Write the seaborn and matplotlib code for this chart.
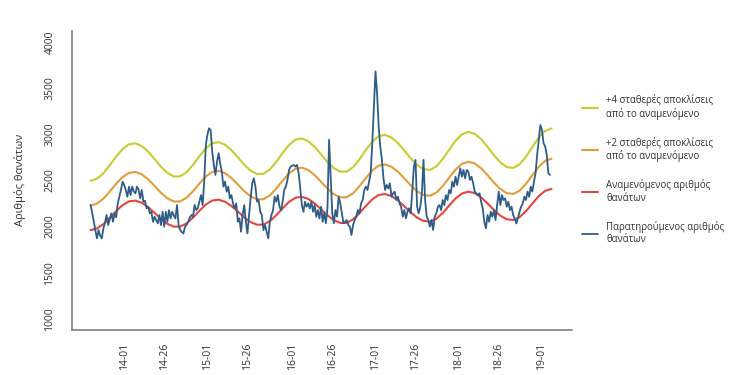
import numpy as np
import pandas as pd
from matplotlib import pyplot as plt
import seaborn as sns

# Weekly observed deaths, week index 0 = week 01 of 2014
obs_2013 = [2233, 2150, 2052, 1960, 1872, 1962, 1900, 1872, 1980, 2040,
            2125, 2016, 2080, 2143, 2052, 2143, 2100, 2251, 2323, 2400, 2486]
obs_2014 = [2450, 2396, 2323, 2432, 2341, 2432, 2380, 2360, 2432, 2400,
            2305, 2396, 2269, 2280, 2197, 2215, 2143, 2160, 2052, 2106,
            2070, 2034, 2125, 2016, 2160, 1998, 2160, 2052, 2178, 2088,
            2160, 2120, 2088, 2233, 2016, 1962, 1940, 1926, 1998, 2020,
            2052, 2100, 2125, 2106, 2233, 2178, 2200, 2269, 2341, 2233,
            2486, 2884]
obs_2015 = [2993, 3064, 3046, 2812, 2667, 2559, 2703, 2794, 2680, 2595,
            2432, 2486, 2378, 2432, 2305, 2341, 2250, 2197, 2251, 2052,
            2088, 1944, 2125, 2233, 2052, 1926, 2125, 2305, 2468, 2522,
            2432, 2269, 2287, 2160, 2125, 1962, 2016, 1944, 1872, 2052,
            2125, 2178, 2323, 2269, 2341, 2215, 2178, 2269, 2396, 2432,
            2504, 2613, 2649, 2660, 2667, 2649, 2667, 2577, 2414, 2233,
            2160, 2269, 2215, 2251, 2197, 2269, 2160, 2233, 2106, 2178,
            2088, 2215, 2052, 2150, 2035]
obs_2016 = [2200, 2939, 2541, 2143, 2035, 2179, 2107, 2324, 2252, 2143,
            2035, 2050, 2071, 2017, 1999, 1909, 2017, 2071, 2107, 2179,
            2143, 2252, 2288, 2396, 2432, 2396, 2487, 2577, 2902, 3300,
            3680, 3445, 3083, 2866, 2722, 2523, 2396, 2450, 2414, 2468,
            2324, 2360, 2378, 2288, 2324, 2252, 2215, 2107, 2179, 2089,
            2161, 2198, 2143, 2400, 2649, 2722, 2215, 2143, 2215, 2360,
            2722, 2288, 2107, 2071, 1999, 2071, 1963, 2107, 2143, 2215]
obs_2017 = [2233, 2178, 2287, 2233, 2341, 2287, 2396, 2360, 2486, 2432,
            2540, 2450, 2540, 2631, 2540, 2613, 2522, 2613, 2595, 2504,
            2540, 2470, 2378, 2360, 2341, 2360, 2269, 2197, 2052, 1980,
            2125, 2052, 2160, 2106, 2178, 2070, 2233, 2378, 2233, 2341,
            2287, 2305, 2215, 2269, 2178, 2215, 2125, 2088, 2034, 2090,
            2160, 2215, 2251, 2323, 2287, 2378, 2323, 2432, 2378, 2486,
            2577, 2776, 2939, 3100, 3046, 2903, 2867, 2776, 2577, 2559]

observed = obs_2013 + obs_2014 + obs_2015 + obs_2016 + obs_2017
obs_weeks = np.arange(-21, -21 + len(observed))

# Expected deaths and the +2 / +4 standard deviation bands, every 4 weeks
curve_weeks = np.arange(-21, 268, 4)
expected = [1962, 1979, 2026, 2094, 2168, 2232, 2272, 2281, 2258, 2210,
            2147, 2082, 2029, 1999, 2000, 2035, 2097, 2171, 2238, 2282,
            2291, 2269, 2223, 2162, 2099, 2048, 2020, 2021, 2058, 2122,
            2198, 2267, 2312, 2322, 2299, 2251, 2187, 2122, 2069, 2039,
            2040, 2078, 2145, 2224, 2295, 2342, 2352, 2330, 2283, 2220,
            2153, 2097, 2061, 2054, 2084, 2146, 2226, 2303, 2358, 2378,
            2362, 2316, 2251, 2180, 2118, 2079, 2071, 2102, 2167, 2249,
            2330, 2387, 2408]
plus2sd = [2229, 2248, 2302, 2379, 2463, 2536, 2581, 2591, 2565, 2511,
           2439, 2365, 2305, 2271, 2272, 2312, 2382, 2466, 2542, 2592,
           2603, 2578, 2525, 2456, 2384, 2327, 2295, 2296, 2338, 2411,
           2497, 2575, 2626, 2638, 2612, 2557, 2484, 2411, 2350, 2316,
           2317, 2361, 2437, 2526, 2607, 2661, 2672, 2647, 2593, 2522,
           2446, 2382, 2341, 2333, 2367, 2438, 2529, 2616, 2679, 2701,
           2683, 2631, 2557, 2476, 2406, 2362, 2353, 2388, 2462, 2555,
           2647, 2712, 2735]
plus4sd = [2496, 2517, 2577, 2664, 2758, 2839, 2890, 2901, 2872, 2811,
           2731, 2648, 2581, 2543, 2544, 2589, 2667, 2762, 2847, 2903,
           2914, 2886, 2828, 2750, 2670, 2605, 2569, 2571, 2618, 2699,
           2796, 2884, 2941, 2954, 2924, 2863, 2782, 2699, 2632, 2594,
           2595, 2643, 2728, 2829, 2919, 2979, 2992, 2964, 2904, 2824,
           2739, 2667, 2622, 2613, 2651, 2730, 2831, 2929, 2999, 3025,
           3004, 2946, 2863, 2773, 2694, 2644, 2634, 2674, 2756, 2861,
           2964, 3036, 3063]

tick_weeks = [0, 25, 52, 77, 105, 130, 157, 182, 209, 234, 261]
tick_labels = ['14-01', '14-26', '15-01', '15-26', '16-01', '16-26',
               '17-01', '17-26', '18-01', '18-26', '19-01']
y_ticks = [1000, 1500, 2000, 2500, 3000, 3500, 4000]

sns.set_style('white')
plt.rcParams['font.family'] = ['Open Sans', 'DejaVu Sans']

fig = plt.figure(figsize=(7.5, 3.75), dpi=100)
ax = fig.add_axes([0.096, 0.12, 0.6663, 0.798])

sns.lineplot(x=curve_weeks, y=plus4sd, color='#c8cc2c', lw=1.5, ax=ax,
             label='+4 σταθερές αποκλίσεις\nαπό το αναμενόμενο')
sns.lineplot(x=curve_weeks, y=plus2sd, color='#e49c3a', lw=1.5, ax=ax,
             label='+2 σταθερές αποκλίσεις\nαπό το αναμενόμενο')
sns.lineplot(x=curve_weeks, y=expected, color='#e6463e', lw=1.5, ax=ax,
             label='Αναμενόμενος αριθμός\nθανάτων')
sns.lineplot(x=obs_weeks, y=observed, color='#2f5d8a', lw=1.3, ax=ax,
             label='Παρατηρούμενος αριθμός\nθανάτων')

ax.set_xlim(-32.6, 279.6)
ax.set_ylim(880, 4120)
ax.set_xticks(tick_weeks)
ax.set_xticklabels(tick_labels, rotation=90)
ax.set_yticks(y_ticks)
ax.set_yticklabels([str(v) for v in y_ticks], rotation=90, va='center')

sns.despine(ax=ax)
for side in ['left', 'bottom']:
    ax.spines[side].set_color('#777777')
    ax.spines[side].set_linewidth(1.1)
ax.tick_params(direction='out', length=5, width=1, color='#777777',
               labelsize=7.5, labelcolor='#333333', pad=4)
ax.tick_params(axis='y', pad=7)

ax.set_xlabel('')
ax.set_ylabel('Αριθμός θανάτων', fontsize=8, color='#333333')
ax.yaxis.set_label_coords(-0.092, 0.5)

ax.legend(loc='upper left', bbox_to_anchor=(0.764, 0.772),
          bbox_transform=fig.transFigure, frameon=False, fontsize=6.9,
          handlelength=1.75, handletextpad=0.8, labelspacing=1.75,
          labelcolor='#333333')

fig.savefig('out.png', dpi=100)
